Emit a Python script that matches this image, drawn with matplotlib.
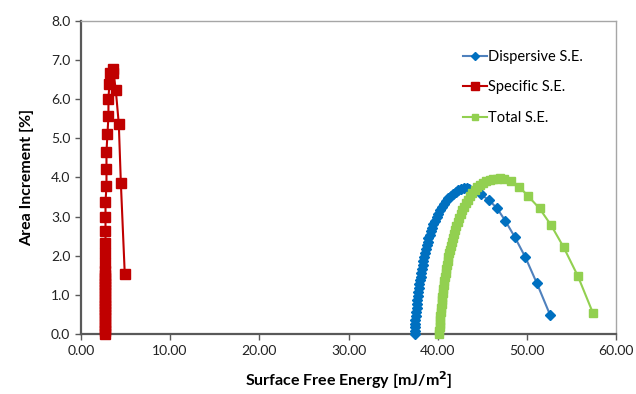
import matplotlib
matplotlib.use("Agg")
import matplotlib.pyplot as plt
from matplotlib.ticker import MultipleLocator, FormatStrFormatter

plt.rcParams['font.family'] = ['Lato', 'DejaVu Sans']

# Dispersive S.E. (mJ/m2, area increment %)
disp_x = [37.40, 37.41, 37.43, 37.46, 37.49, 37.53, 37.57, 37.62, 37.67, 37.72,
          37.77, 37.83, 37.89, 37.95, 38.02, 38.09, 38.16, 38.23, 38.30, 38.38,
          38.46, 38.55, 38.64, 38.74, 38.85, 38.96, 39.08, 39.21, 39.36, 39.52,
          39.69, 39.87, 40.06, 40.26, 40.47, 40.70, 40.94, 41.19, 41.45, 41.72,
          42.00, 42.29, 42.59, 42.90, 43.22, 43.55,
          44.80, 45.75, 46.65, 47.55, 48.60, 49.80, 51.10, 52.60]
disp_y = [0.00, 0.08, 0.17, 0.27, 0.37, 0.47, 0.57, 0.67, 0.77, 0.87,
          0.97, 1.07, 1.17, 1.27, 1.37, 1.47, 1.57, 1.67, 1.77, 1.87,
          1.97, 2.07, 2.17, 2.27, 2.36, 2.45, 2.54, 2.63, 2.72, 2.81,
          2.90, 2.99, 3.08, 3.17, 3.25, 3.33, 3.41, 3.48, 3.54, 3.59,
          3.64, 3.67, 3.70, 3.72, 3.72, 3.71,
          3.57, 3.42, 3.21, 2.90, 2.49, 1.97, 1.30, 0.48]

# Specific S.E.
spec_x = [2.68, 2.68, 2.68, 2.68, 2.68, 2.68, 2.68, 2.68, 2.68, 2.68,
          2.68, 2.68, 2.68, 2.68, 2.68, 2.68, 2.69, 2.69, 2.69, 2.69, 2.69,
          2.69, 2.69, 2.77, 2.77, 2.77, 2.77, 2.88, 2.88, 2.88, 2.99,
          3.10, 3.10, 3.21, 3.33, 3.59, 3.66, 3.92, 4.26, 4.49, 4.93]
spec_y = [0.00, 0.08, 0.16, 0.24, 0.32, 0.40, 0.48, 0.56, 0.64, 0.72,
          0.80, 0.88, 0.96, 1.04, 1.12, 1.20, 1.28, 1.36, 1.44, 1.52, 1.60,
          1.81, 2.06, 2.33, 2.64, 3.00, 3.37, 3.79, 4.22, 4.66, 5.11,
          5.57, 6.01, 6.40, 6.66, 6.77, 6.68, 6.24, 5.37, 3.87, 1.53]

# Total S.E.
total_x = [40.18, 40.19, 40.21, 40.23, 40.26, 40.29, 40.33, 40.37, 40.42, 40.47,
           40.52, 40.57, 40.63, 40.69, 40.75, 40.81, 40.88, 40.95, 41.02, 41.10,
           41.19, 41.28, 41.38, 41.48, 41.59, 41.70, 41.82, 41.95, 42.09, 42.24,
           42.40, 42.57, 42.75, 42.94, 43.14, 43.36, 43.60, 43.86, 44.14, 44.44,
           44.76, 45.10, 45.45, 45.82, 46.20, 46.60, 47.00, 47.45,
           48.20, 49.10, 50.10, 51.40, 52.70, 54.10, 55.70, 57.40]
total_y = [0.00, 0.08, 0.17, 0.26, 0.36, 0.46, 0.56, 0.66, 0.76, 0.86,
           0.96, 1.06, 1.16, 1.26, 1.36, 1.46, 1.56, 1.66, 1.76, 1.86,
           1.96, 2.06, 2.16, 2.26, 2.36, 2.46, 2.56, 2.66, 2.76, 2.86,
           2.96, 3.06, 3.16, 3.25, 3.34, 3.43, 3.52, 3.61, 3.69, 3.76,
           3.82, 3.87, 3.91, 3.94, 3.96, 3.97, 3.98, 3.97,
           3.91, 3.77, 3.53, 3.21, 2.78, 2.22, 1.48, 0.53]

fig = plt.figure(figsize=(6.36, 3.94), dpi=100)
ax = fig.add_axes([0.127, 0.152, 0.842, 0.795])

ax.plot(disp_x, disp_y, color='#4F81BD', lw=1.5, marker='D', ms=5.5,
        mfc='#0070C0', mec='#0070C0', label='Dispersive S.E.', clip_on=False, zorder=3)
ax.plot(spec_x, spec_y, color='#C00000', lw=1.5, marker='s', ms=7.5,
        mfc='#C00000', mec='#C00000', label='Specific S.E.', clip_on=False, zorder=3)
ax.plot(total_x, total_y, color='#92D050', lw=1.5, marker='s', ms=6,
        mfc='#92D050', mec='#92D050', label='Total S.E.', clip_on=False, zorder=3)

ax.set_xlim(0, 60)
ax.set_ylim(0, 8)
ax.xaxis.set_major_locator(MultipleLocator(10))
ax.yaxis.set_major_locator(MultipleLocator(1))
ax.xaxis.set_major_formatter(FormatStrFormatter('%.2f'))
ax.yaxis.set_major_formatter(FormatStrFormatter('%.1f'))
ax.tick_params(axis='both', direction='out', length=4, width=1, color='#595959',
               labelsize=10, labelcolor='#222222')

for side in ['left', 'bottom']:
    ax.spines[side].set_color('#595959')
    ax.spines[side].set_linewidth(1.6)
for side in ['top', 'right']:
    ax.spines[side].set_color('#A6A6A6')
    ax.spines[side].set_linewidth(1.0)

ax.set_xlabel('Surface Free Energy [mJ/m$^\\mathbf{2}$]', fontsize=11.5, fontweight='bold', labelpad=9)
ax.set_ylabel('Area Increment [%]', fontsize=11.5, fontweight='bold', labelpad=12)

ax.legend(loc='upper left', bbox_to_anchor=(0.69, 0.95), frameon=False, fontsize=10.5,
          handlelength=1.6, handletextpad=0.1, labelspacing=1.15, markerscale=0.8)

fig.savefig('out.png', dpi=100)
